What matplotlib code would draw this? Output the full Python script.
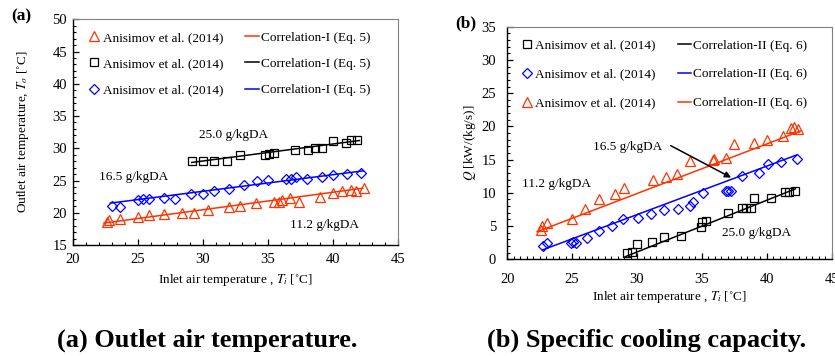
import numpy as np
import matplotlib
matplotlib.use("Agg")
import matplotlib.pyplot as plt
from matplotlib.ticker import MultipleLocator

plt.rcParams['font.family'] = ['Liberation Serif', 'DejaVu Serif']
plt.rcParams['mathtext.fontset'] = 'stix'

# (a) outlet air temperature, Anisimov et al. (2014)
a_x_112 = [22.6, 22.8, 23.6, 25.0, 25.9, 27.0, 28.4, 29.3, 30.4, 32.0, 32.9, 34.1, 35.5, 35.9, 36.1, 36.7, 37.4, 39.0, 40.0, 40.7, 41.4, 41.8, 42.4]
a_y_112 = [18.5, 18.8, 19.1, 19.4, 19.6, 19.75, 19.9, 19.9, 20.4, 20.9, 21.05, 21.5, 21.7, 21.7, 22.0, 22.35, 21.7, 22.4, 23.0, 23.4, 23.6, 23.3, 23.9]
a_x_165 = [23.0, 23.6, 25.0, 25.4, 25.9, 27.0, 27.9, 29.1, 30.0, 30.9, 32.0, 33.2, 34.2, 35.0, 36.4, 36.8, 37.2, 38.0, 39.2, 40.0, 41.1, 42.2]
a_y_165 = [21.1, 20.95, 21.95, 22.1, 22.1, 22.3, 22.2, 22.95, 22.95, 23.45, 23.75, 24.35, 24.85, 25.05, 25.3, 25.3, 25.6, 25.3, 25.6, 25.8, 26.0, 26.1]
a_x_250 = [29.2, 30.0, 30.9, 31.9, 32.9, 34.8, 35.1, 35.5, 37.1, 38.1, 38.6, 39.2, 40.0, 41.0, 41.4, 41.85]
a_y_250 = [28.0, 28.05, 28.05, 28.0, 28.95, 28.95, 29.1, 29.2, 29.8, 29.8, 30.0, 30.0, 31.05, 30.85, 31.3, 31.3]

# correlation-I lines (end points)
c1_x_112 = [22.4, 42.3]
c1_y_112 = [18.4, 23.8]
c1_x_165 = [22.9, 42.35]
c1_y_165 = [21.5, 26.5]
c1_x_250 = [29.15, 42.05]
c1_y_250 = [27.8, 31.2]

# (b) specific cooling capacity, Anisimov et al. (2014)
b_x_112 = [22.6, 22.7, 23.05, 25.0, 26.0, 27.05, 28.3, 29.0, 31.2, 32.25, 33.05, 34.08, 35.85, 35.97, 36.85, 37.47, 39.04, 40.03, 41.25, 41.88, 42.06, 42.4]
b_y_112 = [4.45, 4.95, 5.5, 6.0, 7.6, 9.05, 9.9, 10.75, 12.0, 12.4, 12.9, 14.8, 14.95, 15.05, 15.25, 17.35, 17.55, 17.95, 18.55, 19.7, 19.9, 19.6]
b_x_165 = [22.73, 23.04, 24.88, 25.04, 25.29, 26.16, 27.09, 28.04, 28.89, 30.05, 31.05, 32.07, 33.17, 34.08, 34.33, 35.05, 36.85, 37.02, 37.28, 38.1, 39.39, 40.06, 41.09, 42.32]
b_y_165 = [2.0, 2.5, 2.5, 2.65, 2.5, 3.25, 4.26, 5.0, 6.0, 6.26, 6.8, 7.4, 7.57, 8.07, 8.67, 9.93, 10.28, 10.33, 10.33, 12.53, 13.03, 14.29, 14.59, 15.09]
b_x_250 = [29.25, 29.58, 30.02, 31.12, 32.07, 33.38, 34.92, 35.02, 35.31, 37.03, 38.1, 38.39, 38.75, 39.03, 40.32, 41.4, 41.73, 42.17]
b_y_250 = [0.99, 1.14, 2.26, 2.65, 3.4, 3.55, 4.91, 5.66, 5.81, 7.01, 7.76, 7.76, 7.76, 9.18, 9.18, 10.17, 10.17, 10.28]

# correlation-II lines (end points)
c2_x_112 = [22.3, 42.6]
c2_y_112 = [4.15, 19.3]
c2_x_165 = [22.7, 42.3]
c2_y_165 = [1.4, 15.7]
c2_x_250 = [29.1, 42.2]
c2_y_250 = [0.4, 10.6]

red = '#ff3300'
blue = '#0000ff'
src = 'Anisimov et al. (2014)'

fig = plt.figure(figsize=(8.35, 3.56), dpi=100)
axa = fig.add_axes([0.0871, 0.3118, 0.3892, 0.634])
axb = fig.add_axes([0.6075, 0.2716, 0.3885, 0.6534])


def style(ax, xminor, yminor, pad):
    for s in ['top', 'right']:
        ax.spines[s].set_color('#808080')
        ax.spines[s].set_linewidth(0.8)
    for s in ['left', 'bottom']:
        ax.spines[s].set_linewidth(1.0)
    ax.xaxis.set_major_locator(MultipleLocator(5))
    ax.yaxis.set_major_locator(MultipleLocator(5))
    ax.xaxis.set_minor_locator(MultipleLocator(xminor))
    ax.yaxis.set_minor_locator(MultipleLocator(yminor))
    ax.tick_params(which='both', direction='in', top=False, right=False, labelsize=10.5)
    ax.tick_params(which='major', length=4, width=0.9)
    ax.tick_params(which='minor', length=2.5, width=0.8)
    ax.tick_params(axis='x', pad=pad[0])
    ax.tick_params(axis='y', pad=pad[1])


mk = dict(mfc='none', ls='none', mew=0.9)

# ---- panel (a)
p1, = axa.plot(a_x_112, a_y_112, marker='^', ms=7, mec=red, **mk)
p2, = axa.plot(a_x_250, a_y_250, marker='s', ms=5.5, mec='black', **mk)
p3, = axa.plot(a_x_165, a_y_165, marker='D', ms=5, mec=blue, **mk)
l1, = axa.plot(c1_x_112, c1_y_112, color=red, lw=1.1)
l2, = axa.plot(c1_x_250, c1_y_250, color='black', lw=1.1)
l3, = axa.plot(c1_x_165, c1_y_165, color=blue, lw=1.1)
axa.set_xlim(20, 45)
axa.set_ylim(15, 50)
style(axa, 1, 1, (6, 4))
axa.legend([p1, p2, p3, l1, l2, l3], [src] * 3 + ['Correlation-I (Eq. 5)'] * 3,
           ncol=2, frameon=False, loc='upper left', bbox_to_anchor=(0.045, 0.945),
           borderpad=0, borderaxespad=0, fontsize=9.5, handlelength=1.0,
           handletextpad=0.15, columnspacing=1.7, labelspacing=1.05)
axa.text(32.4, 32.1, '25.0 g/kgDA', fontsize=9.5, ha='center', va='center')
axa.text(24.7, 25.6, '16.5 g/kgDA', fontsize=9.5, ha='center', va='center')
axa.text(39.4, 18.1, '11.2 g/kgDA', fontsize=9.5, ha='center', va='center')
axa.set_xlabel('Inlet air temperature , $T_i$ [˚C]', fontsize=9.5)
axa.set_ylabel('Outlet air temperature, $T_o$ [˚C]', fontsize=9.5)
axa.xaxis.set_label_coords(0.5, -0.12)
axa.yaxis.set_label_coords(-0.128, 0.5)

# ---- panel (b)
q1, = axb.plot(b_x_250, b_y_250, marker='s', ms=5.5, mec='black', **mk)
q2, = axb.plot(b_x_165, b_y_165, marker='D', ms=5, mec=blue, **mk)
q3, = axb.plot(b_x_112, b_y_112, marker='^', ms=7, mec=red, **mk)
m1, = axb.plot(c2_x_250, c2_y_250, color='black', lw=1.1)
m2, = axb.plot(c2_x_165, c2_y_165, color=blue, lw=1.1)
m3, = axb.plot(c2_x_112, c2_y_112, color=red, lw=1.1)
axb.set_xlim(20, 45)
axb.set_ylim(0, 35)
style(axb, 0.5, 1, (10, 8))
axb.legend([q1, q2, q3, m1, m2, m3], [src] * 3 + ['Correlation-II (Eq. 6)'] * 3,
           ncol=2, frameon=False, loc='upper left', bbox_to_anchor=(0.039, 0.945),
           borderpad=0, borderaxespad=0, fontsize=9.5, handlelength=1.0,
           handletextpad=0.15, columnspacing=1.7, labelspacing=1.25)
axb.text(29.3, 16.9, '16.5 g/kgDA', fontsize=9.5, ha='center', va='center')
axb.text(23.8, 11.3, '11.2 g/kgDA', fontsize=9.5, ha='center', va='center')
axb.text(39.2, 3.9, '25.0 g/kgDA', fontsize=9.5, ha='center', va='center')
axb.annotate('', xy=(37.25, 12.3), xytext=(32.6, 17.1),
             arrowprops=dict(arrowstyle='-|>', color='black', lw=1.1,
                             mutation_scale=9, shrinkA=0, shrinkB=0))
axb.set_xlabel('Inlet air temperature , $T_i$ [˚C]', fontsize=9.5)
axb.set_ylabel('$Q$ [kW/(kg/s)]', fontsize=9.5)
axb.xaxis.set_label_coords(0.5, -0.128)
axb.yaxis.set_label_coords(-0.09, 0.5)

fig.text(21 / 835, 1 - 16 / 356, '(a)', fontsize=12.5, fontweight='bold', ha='center', va='center')
fig.text(466 / 835, 1 - 23 / 356, '(b)', fontsize=12.5, fontweight='bold', ha='center', va='center')
fig.text(207 / 835, 1 - 340 / 356, '(a) Outlet air temperature.', fontsize=19,
         fontweight='bold', ha='center', va='center')
fig.text(647 / 835, 1 - 340 / 356, '(b) Specific cooling capacity.', fontsize=19,
         fontweight='bold', ha='center', va='center')

fig.savefig('out.png', dpi=100)
